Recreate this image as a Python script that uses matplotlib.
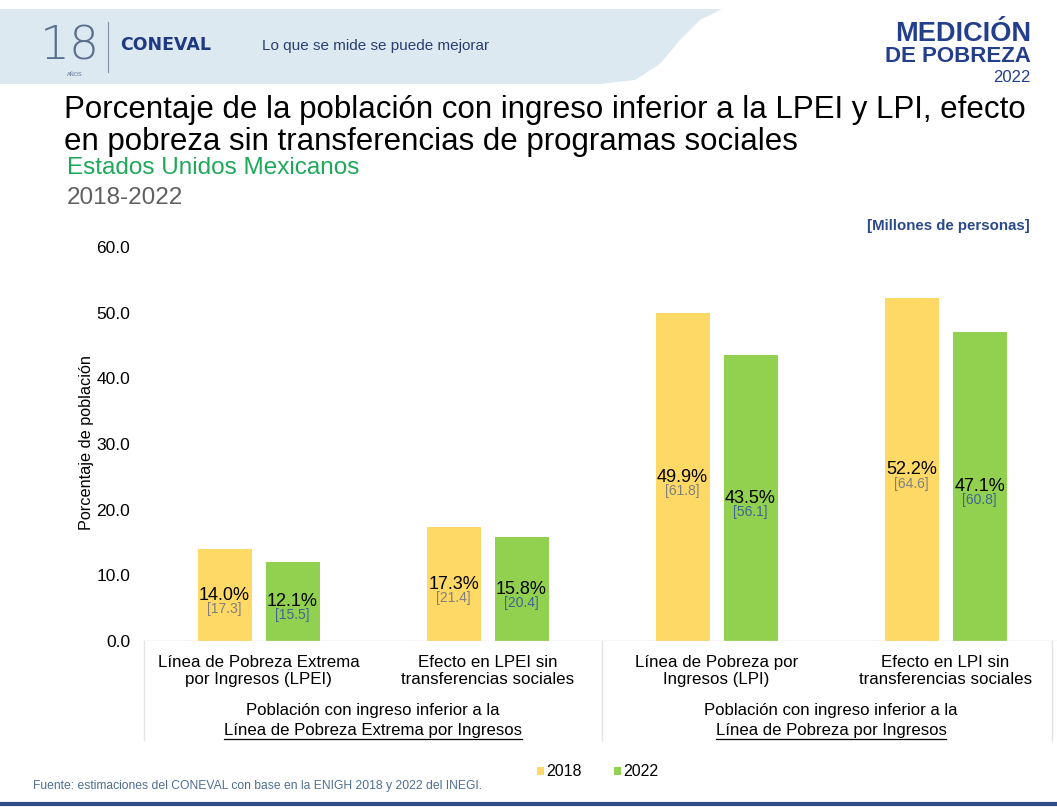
import matplotlib
matplotlib.use("Agg")
import matplotlib.pyplot as plt
import numpy as np
from matplotlib.patches import Polygon, Rectangle
from matplotlib.lines import Line2D

plt.rcParams['font.family'] = ['Liberation Sans', 'DejaVu Sans']

# data
categorias = ['Línea de Pobreza Extrema\npor Ingresos (LPEI)',
              'Efecto en LPEI sin\ntransferencias sociales',
              'Línea de Pobreza por\nIngresos (LPI)',
              'Efecto en LPI sin\ntransferencias sociales']
grupos_l1 = ['Población con ingreso inferior a la', 'Población con ingreso inferior a la']
grupos_l2 = ['Línea de Pobreza Extrema por Ingresos', 'Línea de Pobreza por Ingresos']
pct_2018 = [14.0, 17.3, 49.9, 52.2]
pct_2022 = [12.1, 15.8, 43.5, 47.1]
mill_2018 = [17.3, 21.4, 61.8, 64.6]
mill_2022 = [15.5, 20.4, 56.1, 60.8]
yticks = [0, 10, 20, 30, 40, 50, 60]

C18 = '#FFD966'
C22 = '#92D050'
NAVY = '#233F8C'

W, H = 1057, 810
fig = plt.figure(figsize=(W / 100, H / 100), dpi=100)

def fx(px):
    return px / W

def fy(py):
    return 1 - py / H

# header band
band = Polygon([(fx(0), fy(9)), (fx(722), fy(9)), (fx(700), fy(20)), (fx(680), fy(40)),
                (fx(660), fy(64)), (fx(635), fy(80)), (fx(600), fy(84)), (fx(0), fy(84))],
               closed=True, transform=fig.transFigure, facecolor='#DDE9F1', edgecolor='none')
fig.patches.append(band)
fig.text(fx(40), fy(47), '18', fontsize=34, color='#5B6F8F', va='center', ha='left',
         fontweight='light', family='DejaVu Sans')
fig.text(fx(67), fy(74), 'AÑOS', fontsize=4, color='#5B6F8F', va='center')
fig.lines.append(Line2D([fx(108), fx(108)], [fy(22), fy(72)], transform=fig.transFigure,
                        color='#7F8FA8', lw=0.8))
fig.text(fx(120), fy(45), 'CONEVAL', fontsize=12.5, color='#1F3A80', fontweight='bold',
         va='center', family='DejaVu Sans')
fig.text(fx(262), fy(46), 'Lo que se mide se puede mejorar', fontsize=11, color='#2A3F6E', va='center')
fig.text(fx(1031), fy(34), 'MEDICIÓN', fontsize=19.5, color=NAVY, fontweight='bold', ha='right', va='center')
fig.text(fx(1031), fy(57), 'DE POBREZA', fontsize=16, color=NAVY, fontweight='bold', ha='right', va='center')
fig.text(fx(1031), fy(77), '2022', fontsize=12, color=NAVY, ha='right', va='center')

# titles
fig.text(fx(64), fy(110), 'Porcentaje de la población con ingreso inferior a la LPEI y LPI, efecto',
         fontsize=22.5, color='black', va='center')
fig.text(fx(64), fy(142), 'en pobreza sin transferencias de programas sociales',
         fontsize=22.5, color='black', va='center')
fig.text(fx(67), fy(168), 'Estados Unidos Mexicanos', fontsize=17.5, color='#1EA85A', va='center')
fig.text(fx(67), fy(198), '2018-2022', fontsize=17.5, color='#606060', va='center')
fig.text(fx(1030), fy(226), '[Millones de personas]', fontsize=10.8, color='#2B4A8A',
         fontweight='bold', ha='right', va='center')

# chart
ax_left, ax_right = 144, W
ax = fig.add_axes([fx(ax_left), fy(641), fx(ax_right - ax_left), (641 - 247) / H])
unit = 229.0
ax.set_xlim(-0.5, -0.5 + (ax_right - ax_left) / unit)
ax.set_ylim(0, 60)
x = np.arange(len(categorias))
off = 34 / unit
bw = 54 / unit
ax.bar(x - off, pct_2018, width=bw, color=C18, label='2018')
ax.bar(x + off, pct_2022, width=bw, color=C22, label='2022')

for i in range(len(x)):
    for xx, v, m, bc in [(x[i] - off, pct_2018[i], mill_2018[i], '#7F7F7F'),
                         (x[i] + off, pct_2022[i], mill_2022[i], '#3F6593')]:
        ax.text(xx, v / 2, f'{v:.1f}%', ha='center', va='center', fontsize=13, color='black')
        ax.text(xx, v / 2 - 14 / 6.57, f'[{m:.1f}]', ha='center', va='center', fontsize=10, color=bc)

ax.set_yticks(yticks)
ax.set_yticklabels([f'{t:.1f}' for t in yticks], fontsize=12.5)
ax.tick_params(axis='y', length=0, pad=10)
ax.set_xticks([])
for s in ax.spines.values():
    s.set_visible(False)
ax.axhline(0, color='#D9D9D9', lw=1)
fig.text(fx(86), fy(443), 'Porcentaje de población', rotation=90, fontsize=11.7,
         ha='center', va='center')

# category area
for px in [144, 602, 1052]:
    fig.lines.append(Line2D([fx(px), fx(px)], [fy(641), fy(740)], transform=fig.transFigure,
                            color='#E3E3E3', lw=1))
for i, c in enumerate(categorias):
    cx = ax_left + (i + 0.5) * unit
    fig.text(fx(cx), fy(671), c, fontsize=12.2, ha='center', va='center', linespacing=1.15)
for g in range(2):
    cx = ax_left + (2 * g + 1) * unit
    fig.text(fx(cx), fy(711), grupos_l1[g], fontsize=12.1, ha='center', va='center')
    t = fig.text(fx(cx), fy(731), grupos_l2[g], fontsize=12.1, ha='center', va='center')
    fig.canvas.draw()
    bb = t.get_window_extent()
    fig.lines.append(Line2D([bb.x0 / W, bb.x1 / W], [fy(739), fy(739)], transform=fig.transFigure,
                            color='black', lw=0.9))

# legend
for lx, col, lab in [(537, C18, '2018'), (614, C22, '2022')]:
    fig.patches.append(Rectangle((fx(lx), fy(775)), fx(7), 8 / H, transform=fig.transFigure,
                                 facecolor=col, edgecolor='none'))
    fig.text(fx(lx + 9), fy(771), lab, fontsize=11.5, va='center')

fig.text(fx(33), fy(786), 'Fuente: estimaciones del CONEVAL con base en la ENIGH 2018 y 2022 del INEGI.',
         fontsize=8.7, color='#4F6F95', va='center')
fig.lines.append(Line2D([0, 1], [fy(804), fy(804)], transform=fig.transFigure, color='#2F4C8A', lw=3))

fig.savefig('out.png', dpi=100)
